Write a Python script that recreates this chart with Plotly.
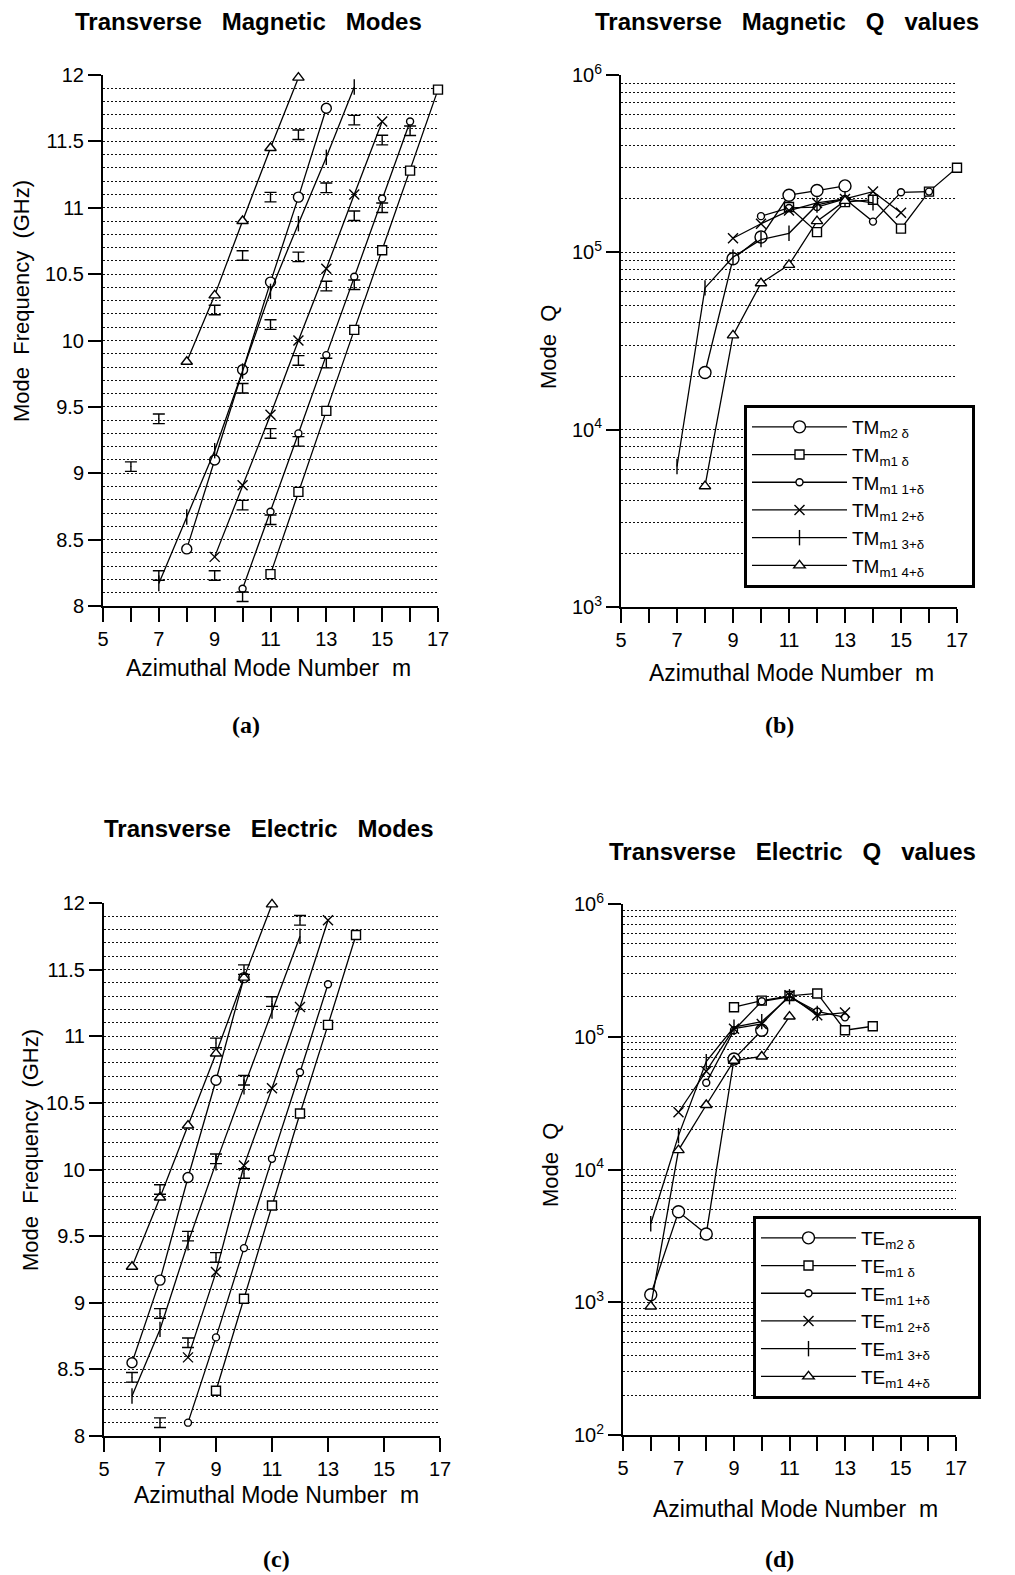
import plotly.graph_objects as go

W, H = 1015, 1575
OFF = 8  # page body margin of the browser

# ---------------- data ----------------
# (a) Transverse Magnetic mode frequencies (GHz)
m_tm_f_circle = [8, 9, 10, 11, 12, 13]
f_tm_circle = [8.43, 9.10, 9.78, 10.44, 11.08, 11.75]
m_tm_f_square = [11, 12, 13, 14, 15, 16, 17]
f_tm_square = [8.24, 8.86, 9.47, 10.08, 10.68, 11.28, 11.89]
m_tm_f_diamond = [10, 11, 12, 13, 14, 15, 16]
f_tm_diamond = [8.13, 8.71, 9.30, 9.89, 10.48, 11.07, 11.65]
m_tm_f_x = [9, 10, 11, 12, 13, 14, 15]
f_tm_x = [8.37, 8.91, 9.44, 10.00, 10.54, 11.10, 11.65]
m_tm_f_plus = [7, 8, 9, 10, 11, 12, 13, 14]
f_tm_plus = [8.17, 8.67, 9.17, 9.77, 10.37, 10.88, 11.38, 11.91]
m_tm_f_tri = [8, 9, 10, 11, 12]
f_tm_tri = [9.84, 10.34, 10.90, 11.45, 11.98]
m_tm_meas = [6, 7, 7, 9, 9, 10, 10, 10, 10, 11, 11, 11, 11, 12, 12, 12, 12,
             13, 13, 13, 14, 14, 14, 15, 15, 16]
f_tm_meas = [9.05, 9.41, 8.23, 10.23, 8.23, 10.64, 9.64, 8.76, 8.07, 11.08, 10.12,
             9.30, 8.65, 11.55, 10.63, 9.85, 9.24, 11.15, 10.41, 9.83, 11.66, 10.94,
             10.42, 11.51, 11.00, 11.58]

# (b) Transverse Magnetic Q values
m_tm_q_circle = [8, 9, 10, 11, 12, 13]
q_tm_circle = [2.1e4, 9.2e4, 1.22e5, 2.1e5, 2.23e5, 2.37e5]
m_tm_q_square = [11, 12, 13, 14, 15, 16, 17]
q_tm_square = [1.8e5, 1.3e5, 1.92e5, 1.98e5, 1.36e5, 2.2e5, 3.0e5]
m_tm_q_diamond = [10, 11, 12, 13, 14, 15, 16]
q_tm_diamond = [1.6e5, 1.78e5, 1.8e5, 2.0e5, 1.49e5, 2.18e5, 2.2e5]
m_tm_q_x = [9, 10, 11, 12, 13, 14, 15]
q_tm_x = [1.2e5, 1.45e5, 1.72e5, 1.9e5, 2.0e5, 2.2e5, 1.67e5]
m_tm_q_plus = [7, 8, 9, 10, 11, 12, 13, 14]
q_tm_plus = [6.2e3, 6.3e4, 9.4e4, 1.18e5, 1.28e5, 1.85e5, 2.0e5, 1.9e5]
m_tm_q_tri = [8, 9, 10, 11, 12, 13]
q_tm_tri = [4.8e3, 3.4e4, 6.7e4, 8.5e4, 1.5e5, 1.95e5]

# (c) Transverse Electric mode frequencies (GHz)
m_te_f_circle = [6, 7, 8, 9, 10]
f_te_circle = [8.55, 9.17, 9.94, 10.67, 11.44]
m_te_f_square = [9, 10, 11, 12, 13, 14]
f_te_square = [8.34, 9.03, 9.73, 10.42, 11.085, 11.76]
m_te_f_diamond = [8, 9, 10, 11, 12, 13]
f_te_diamond = [8.10, 8.74, 9.41, 10.08, 10.73, 11.39]
m_te_f_x = [8, 9, 10, 11, 12, 13]
f_te_x = [8.59, 9.23, 10.03, 10.61, 11.22, 11.87]
m_te_f_plus = [6, 7, 8, 9, 10, 11, 12]
f_te_plus = [8.30, 8.80, 9.45, 10.05, 10.62, 11.19, 11.75]
m_te_f_tri = [6, 7, 8, 9, 10, 11]
f_te_tri = [9.27, 9.79, 10.33, 10.87, 11.44, 11.99]
m_te_meas = [6, 7, 7, 7, 8, 8, 9, 9, 9, 10, 10, 10, 11, 12]
f_te_meas = [8.44, 8.10, 8.92, 9.85, 8.70, 9.50, 9.34, 10.08, 10.95, 9.97, 10.67,
             11.50, 11.26, 11.87]

# (d) Transverse Electric Q values
m_te_q_circle = [6, 7, 8, 9, 10]
q_te_circle = [1.14e3, 4.8e3, 3.27e3, 6.8e4, 1.12e5]
m_te_q_square = [9, 10, 11, 12, 13, 14]
q_te_square = [1.67e5, 1.87e5, 2.03e5, 2.12e5, 1.12e5, 1.2e5]
m_te_q_diamond = [8, 9, 10, 11, 12, 13]
q_te_diamond = [4.5e4, 1.12e5, 1.85e5, 2.0e5, 1.55e5, 1.4e5]
m_te_q_x = [7, 8, 9, 10, 11, 12, 13]
q_te_x = [2.7e4, 5.5e4, 1.15e5, 1.25e5, 2.05e5, 1.45e5, 1.52e5]
m_te_q_plus = [6, 7, 8, 9, 10, 11, 12]
q_te_plus = [3.9e3, 1.8e4, 6.5e4, 1.18e5, 1.3e5, 2.0e5, 1.5e5]
m_te_q_tri = [6, 7, 8, 9, 10, 11]
q_te_tri = [9.3e2, 1.4e4, 3.06e4, 6.6e4, 7.1e4, 1.42e5]

mode_labels = ["m2 δ", "m1 δ", "m1 1+δ", "m1 2+δ", "m1 3+δ", "m1 4+δ"]
x_tick_vals = list(range(5, 18))
f_tick_vals = [8, 8.5, 9, 9.5, 10, 10.5, 11, 11.5, 12]
f_tick_text = ["8", "8.5", "9", "9.5", "10", "10.5", "11", "11.5", "12"]

# ---------------- helpers ----------------
FONT = "Liberation Sans, Arial, sans-serif"
NB = "\u00a0"
fig = go.Figure()

def px_x(p):
    return (p - OFF) / W

def px_y(p):
    return 1 - (p - OFF) / H

SYMS = [("circle", 10), ("square", 9), ("circle", 7), ("x-thin", 10),
        ("line-ns", 11), ("triangle-up", 10)]

def add_set(xa, ya, sets, prefix=None, legend=None, big=False):
    for i, (m, v) in enumerate(sets):
        sym, size = SYMS[i]
        if big and i == 0:
            size = 12
        fig.add_trace(go.Scatter(
            x=m, y=v, xaxis=xa, yaxis=ya, mode="lines+markers",
            line=dict(color="black", width=1.3),
            marker=dict(symbol=sym, size=size, color="white",
                        line=dict(color="black", width=1.4)),
            name=(f"{prefix}<sub>{mode_labels[i]}</sub>" + NB * 8 if prefix else None),
            showlegend=legend is not None,
            legend=legend if legend else "legend",
            cliponaxis=False))

def add_meas(xa, ya, m, f):
    fig.add_trace(go.Scatter(
        x=m, y=f, xaxis=xa, yaxis=ya, mode="markers",
        marker=dict(size=1, color="black"),
        error_y=dict(type="constant", value=0.036, width=6, thickness=1.4,
                     color="black"),
        showlegend=False, cliponaxis=False))

add_set("x", "y", [(m_tm_f_circle, f_tm_circle), (m_tm_f_square, f_tm_square),
                   (m_tm_f_diamond, f_tm_diamond), (m_tm_f_x, f_tm_x),
                   (m_tm_f_plus, f_tm_plus), (m_tm_f_tri, f_tm_tri)])
add_meas("x", "y", m_tm_meas, f_tm_meas)
add_set("x2", "y2", [(m_tm_q_circle, q_tm_circle), (m_tm_q_square, q_tm_square),
                     (m_tm_q_diamond, q_tm_diamond), (m_tm_q_x, q_tm_x),
                     (m_tm_q_plus, q_tm_plus), (m_tm_q_tri, q_tm_tri)],
        prefix="TM", legend="legend", big=True)
add_set("x3", "y3", [(m_te_f_circle, f_te_circle), (m_te_f_square, f_te_square),
                     (m_te_f_diamond, f_te_diamond), (m_te_f_x, f_te_x),
                     (m_te_f_plus, f_te_plus), (m_te_f_tri, f_te_tri)])
add_meas("x3", "y3", m_te_meas, f_te_meas)
add_set("x4", "y4", [(m_te_q_circle, q_te_circle), (m_te_q_square, q_te_square),
                     (m_te_q_diamond, q_te_diamond), (m_te_q_x, q_te_x),
                     (m_te_q_plus, q_te_plus), (m_te_q_tri, q_te_tri)],
        prefix="TE", legend="legend2", big=True)

DOT = "2px,2px"
GRIDC = "#111111"

def xaxis(l, r, anchor, every=1):
    vals = [v for v in x_tick_vals if (v - 5) % every == 0]
    return dict(domain=[px_x(l), px_x(r)], anchor=anchor, range=[5, 17],
                tickvals=vals, ticktext=[str(v) if v % 2 == 1 else "" for v in vals],
                showline=True, linecolor="black", linewidth=2,
                ticks="outside", ticklen=14, tickwidth=1.5, tickcolor="black",
                showgrid=False, zeroline=False, automargin=False,
                tickfont=dict(family=FONT, size=20, color="black"))

def f_axis(top, bottom, anchor):
    return dict(domain=[px_y(bottom), px_y(top)], anchor=anchor, range=[8, 12],
                tickvals=f_tick_vals, ticktext=f_tick_text,
                showline=True, linecolor="black", linewidth=2,
                ticks="outside", ticklen=13, tickwidth=1.5, tickcolor="black",
                showgrid=True, gridcolor=GRIDC, gridwidth=1, griddash=DOT,
                zeroline=False, automargin=False,
                minor=dict(dtick=0.1, showgrid=True, gridcolor=GRIDC,
                           gridwidth=1, griddash=DOT, ticks=""),
                tickfont=dict(family=FONT, size=20, color="black"))

def q_axis(top, bottom, anchor, lo, hi):
    dec = [10 ** k for k in range(lo, hi + 1)]
    minor_vals = [d * 10 ** k for k in range(lo, hi) for d in range(2, 10)]
    return dict(domain=[px_y(bottom), px_y(top)], anchor=anchor, type="log",
                range=[lo, hi], tickvals=dec,
                ticktext=[f"10<sup>{k}</sup>" for k in range(lo, hi + 1)],
                showline=True, linecolor="black", linewidth=2,
                ticks="outside", ticklen=13, tickwidth=1.5, tickcolor="black",
                showgrid=True, gridcolor=GRIDC, gridwidth=1, griddash=DOT,
                zeroline=False, automargin=False,
                minor=dict(tickvals=minor_vals, showgrid=True, gridcolor=GRIDC,
                           gridwidth=1, griddash=DOT, ticks=""),
                tickfont=dict(family=FONT, size=20, color="black"))

leg_common = dict(xanchor="left", yanchor="top", bgcolor="white",
                  bordercolor="black", borderwidth=3,
                  font=dict(family=FONT, size=19, color="black"),
                  itemwidth=95, tracegroupgap=0)

fig.update_layout(
    width=W, height=H,
    margin=dict(l=0, r=0, t=0, b=0, pad=0, autoexpand=False),
    paper_bgcolor="white", plot_bgcolor="white",
    font=dict(family=FONT, color="black"),
    xaxis=xaxis(103, 438, "y"),
    yaxis=f_axis(75, 606, "x"),
    xaxis2=xaxis(621, 957, "y2"),
    yaxis2=q_axis(75, 607, "x2", 3, 6),
    xaxis3=xaxis(104, 440, "y3", every=2),
    yaxis3=f_axis(903, 1436, "x3"),
    xaxis4=xaxis(623, 956, "y4"),
    yaxis4=q_axis(904, 1435, "x4", 2, 6),
    legend=dict(x=px_x(744), y=px_y(405), **leg_common),
    legend2=dict(x=px_x(753), y=px_y(1216), **leg_common),
)

def ann(text, x, y, size=20, bold=False, angle=0, family=FONT):
    fig.add_annotation(text=(f"<b>{text}</b>" if bold else text),
                       x=px_x(x), y=px_y(y), xref="paper", yref="paper",
                       xanchor="center", yanchor="middle", showarrow=False,
                       textangle=angle,
                       font=dict(family=family, size=size, color="black"))

sp = NB * 3
ann(f"Transverse{sp}Magnetic{sp}Modes", 248, 22, size=24, bold=True)
ann(f"Transverse{sp}Magnetic{sp}Q{sp}values", 787, 22, size=24, bold=True)
ann(f"Transverse{sp}Electric{sp}Modes", 269, 829, size=24, bold=True)
ann(f"Transverse{sp}Electric{sp}Q{sp}values", 792, 851, size=24, bold=True)

ann(f"Mode{NB}{NB}Frequency{NB}{NB}(GHz)", 22, 301, size=22, angle=-90)
ann(f"Mode{NB}{NB}Q", 548, 347, size=22, angle=-90)
ann(f"Mode{NB}{NB}Frequency{NB}{NB}(GHz)", 30, 1150, size=22, angle=-90)
ann(f"Mode{NB}{NB}Q", 550, 1165, size=22, angle=-90)

xt = f"Azimuthal{NB}Mode{NB}Number{NB}{NB}m"
ann(xt, 268, 668, size=23)
ann(xt, 791, 673, size=23)
ann(xt, 276, 1495, size=23)
ann(xt, 795, 1509, size=23)

SERIF = "Liberation Serif, Times New Roman, serif"
ann("(a)", 246, 725, size=24, bold=True, family=SERIF)
ann("(b)", 779, 725, size=24, bold=True, family=SERIF)
ann("(c)", 276, 1559, size=24, bold=True, family=SERIF)
ann("(d)", 779, 1559, size=24, bold=True, family=SERIF)

fig.write_html("out.html")
